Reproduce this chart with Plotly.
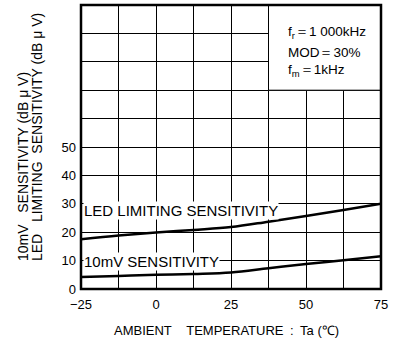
import plotly.graph_objects as go

# Data
temps = [-25, -12.5, 0, 12.5, 25, 37.5, 50, 62.5, 75]
led_limiting = [17.5, 18.8, 19.9, 20.8, 21.8, 23.7, 25.7, 27.8, 30.0]
sens_10mv = [4.2, 4.6, 5.0, 5.3, 5.8, 7.3, 8.8, 10.1, 11.5]

x_tickvals = [-25, 0, 25, 50, 75]
x_ticktext = ["\u221225", "0", "25", "50", "75"]
y_tickvals = [0, 10, 20, 30, 40, 50]
y_ticktext = ["0", "10", "20", "30", "40", "50"]

FONT = "Liberation Sans, Arial, Helvetica, sans-serif"
NB = "\u00a0"

W, H = 401, 342
L, R, T, B = 81, 20, 5, 53
PW, PH = W - L - R, H - T - B


def px(x):
    return (x - L) / PW


def py(y):
    return (H - B - y) / PH


fig = go.Figure()
fig.add_trace(go.Scatter(x=temps, y=led_limiting, mode="lines",
                         line=dict(color="black", width=2.5, shape="spline"),
                         showlegend=False, hoverinfo="skip"))
fig.add_trace(go.Scatter(x=temps, y=sens_10mv, mode="lines",
                         line=dict(color="black", width=2.5, shape="spline"),
                         showlegend=False, hoverinfo="skip"))

# white condition box in the upper right
fig.add_shape(type="rect", x0=37.5, x1=75, y0=70, y1=100,
              fillcolor="white", line=dict(color="black", width=1), layer="above")

# frame
fig.add_shape(type="rect", xref="paper", yref="paper", x0=0, x1=1, y0=0, y1=1,
              line=dict(color="black", width=2.5), layer="above")

ann = []
# curve labels
ann.append(dict(x=px(83), y=27.5, xref="paper", yref="y", text="LED LIMITING SENSITIVITY",
                showarrow=False, xanchor="left", yanchor="middle", bgcolor="white",
                borderpad=0, font=dict(family=FONT, size=15, color="black")))
ann.append(dict(x=px(83), y=9.6, xref="paper", yref="y", text="10mV SENSITIVITY",
                showarrow=False, xanchor="left", yanchor="middle", bgcolor="white",
                borderpad=0, font=dict(family=FONT, size=15, color="black")))
# conditions
cond = ["f<sub>r</sub>\uff1d1" + NB + "000kHz", "MOD\uff1d30%", "f<sub>m</sub>\uff1d1kHz"]
for t, yy in zip(cond, [33, 52, 70]):
    ann.append(dict(x=px(286), y=py(yy), xref="paper", yref="paper", text=t,
                    showarrow=False, xanchor="left", yanchor="middle",
                    font=dict(family=FONT, size=13.5, color="black")))
# y-axis title (two rotated lines)
ann.append(dict(x=px(22.5), y=py(263), xref="paper", yref="paper",
                text="10mV" + NB * 3 + "SENSITIVITY (dB \u03bc V)", textangle=-90,
                showarrow=False, xanchor="center", yanchor="bottom",
                font=dict(family=FONT, size=14, color="black")))
ann.append(dict(x=px(37), y=py(263), xref="paper", yref="paper",
                text="LED" + NB * 3 + "LIMITING" + NB * 2 + "SENSITIVITY (dB \u03bc V)", textangle=-90,
                showarrow=False, xanchor="center", yanchor="bottom",
                font=dict(family=FONT, size=14, color="black")))
# x-axis title
ann.append(dict(x=px(226), y=py(330), xref="paper", yref="paper",
                text="AMBIENT" + NB * 4 + "TEMPERATURE\u2002:\u2002Ta (\u2103)",
                showarrow=False, xanchor="center", yanchor="middle",
                font=dict(family=FONT, size=13, color="black")))

grid = dict(showgrid=True, gridcolor="black", gridwidth=1)
fig.update_layout(
    width=W, height=H,
    margin=dict(l=L, r=R, t=T, b=B, pad=0, autoexpand=False),
    paper_bgcolor="white", plot_bgcolor="white",
    annotations=ann,
    xaxis=dict(range=[-25, 75], tickmode="array", tickvals=x_tickvals, ticktext=x_ticktext,
               zeroline=False, showline=False, ticks="", ticklabelstandoff=6,
               minor=dict(tickmode="linear", tick0=-25, dtick=12.5, ticks="", **grid),
               tickfont=dict(family=FONT, size=13, color="black"), **grid),
    yaxis=dict(range=[0, 100], tickmode="array", tickvals=y_tickvals, ticktext=y_ticktext,
               zeroline=False, showline=False, ticks="", ticklabelstandoff=4,
               minor=dict(tickmode="linear", tick0=0, dtick=10, ticks="", **grid),
               tickfont=dict(family=FONT, size=13, color="black"), **grid),
)

fig.write_html("out.html", config={"displayModeBar": False, "staticPlot": True},
               post_script="document.body.style.margin='0';")
